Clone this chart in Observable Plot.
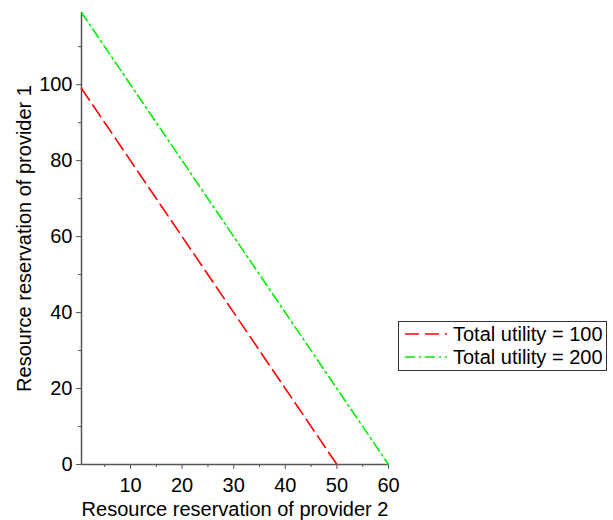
<!DOCTYPE html>
<html>
<head>
<meta charset="utf-8">
<script src="https://cdn.jsdelivr.net/npm/d3@7"></script>
<script src="https://cdn.jsdelivr.net/npm/@observablehq/plot@0.6"></script>
<style>
  body { margin: 0; background: #fff; font-family: "Liberation Sans", Arial, sans-serif; }
  #wrap { position: relative; width: 613px; height: 520px; }
  #legend {
    position: absolute; left: 398px; top: 321px; width: 207px; height: 48px;
    border: 1px solid #333; background: #fff; font-size: 20px; color: #000;
  }
  #legend .row { position: absolute; left: 6px; height: 22px; display: flex; align-items: center; }
  #legend svg { margin-right: 6px; }
</style>
</head>
<body>
<div id="wrap"><div id="legend"></div></div>
<script>
// Iso-utility lines: endpoints of each straight line (provider 2, provider 1)
const seriesNames = ["Total utility = 100", "Total utility = 200"];
const seriesColors = ["#ff0000", "#00ee00"];
const seriesDash = ["14,6", "10,4,2,4"];
const provider2 = [[0.5, 50], [0.5, 60]];
const provider1 = [[99, 0], [119, 0]];

const xMajor = [10, 20, 30, 40, 50, 60];
const xMinor = [5, 15, 25, 35, 45, 55];
const yMajor = [0, 20, 40, 60, 80, 100];
const yMinor = [10, 30, 50, 70, 90, 110];

const xLabel = "Resource reservation of provider 2";
const yLabel = "Resource reservation of provider 1";

const rows = seriesNames.flatMap((name, i) =>
  provider2[i].map((x, j) => ({series: name, x, y: provider1[i][j]}))
);

const axisColor = "#555";

const chart = Plot.plot({
  width: 613,
  height: 520,
  marginLeft: 81,
  marginRight: 225,
  marginTop: 12,
  marginBottom: 56,
  style: {fontFamily: "'Liberation Sans', Arial, sans-serif", fontSize: "20px", color: "#000", background: "#fff"},
  x: {domain: [0.5, 60]},
  y: {domain: [0, 119]},
  marks: [
    Plot.axisX(xMinor, {tickSize: 3, text: null, stroke: axisColor, label: null}),
    Plot.axisX(xMajor, {tickSize: 5, tickPadding: 8, stroke: axisColor, label: null, fill: "#000"}),
    Plot.axisY(yMinor, {tickSize: 3, text: null, stroke: axisColor, label: null}),
    Plot.axisY(yMajor, {tickSize: 5, tickPadding: 4, stroke: axisColor, label: null, fill: "#000"}),
    Plot.ruleY([0], {stroke: axisColor, strokeWidth: 1.5}),
    Plot.ruleX([0.5], {stroke: axisColor, strokeWidth: 1.5}),
    ...seriesNames.map((name, i) =>
      Plot.line(rows.filter(d => d.series === name), {
        x: "x", y: "y", stroke: seriesColors[i], strokeWidth: 1.6,
        strokeDasharray: seriesDash[i]
      })
    ),
    Plot.text([xLabel], {frameAnchor: "bottom", dy: 45, lineAnchor: "middle", textAnchor: "middle", fontSize: 20, fill: "#000"}),
    Plot.text([yLabel], {frameAnchor: "left", dx: -57, rotate: -90, lineAnchor: "middle", textAnchor: "middle", fontSize: 20, fill: "#000"})
  ]
});
document.getElementById("wrap").prepend(chart);

// Legend box to the right of the plot
const legend = d3.select("#legend");
seriesNames.forEach((name, i) => {
  const row = legend.append("div").attr("class", "row").style("top", `${i * 23 + 1}px`);
  const svg = row.append("svg").attr("width", 42).attr("height", 10);
  svg.append("line").attr("x1", 0).attr("x2", 42).attr("y1", 5).attr("y2", 5)
    .attr("stroke", seriesColors[i]).attr("stroke-width", 1.6)
    .attr("stroke-dasharray", seriesDash[i]);
  row.append("span").text(name);
});
</script>
</body>
</html>
